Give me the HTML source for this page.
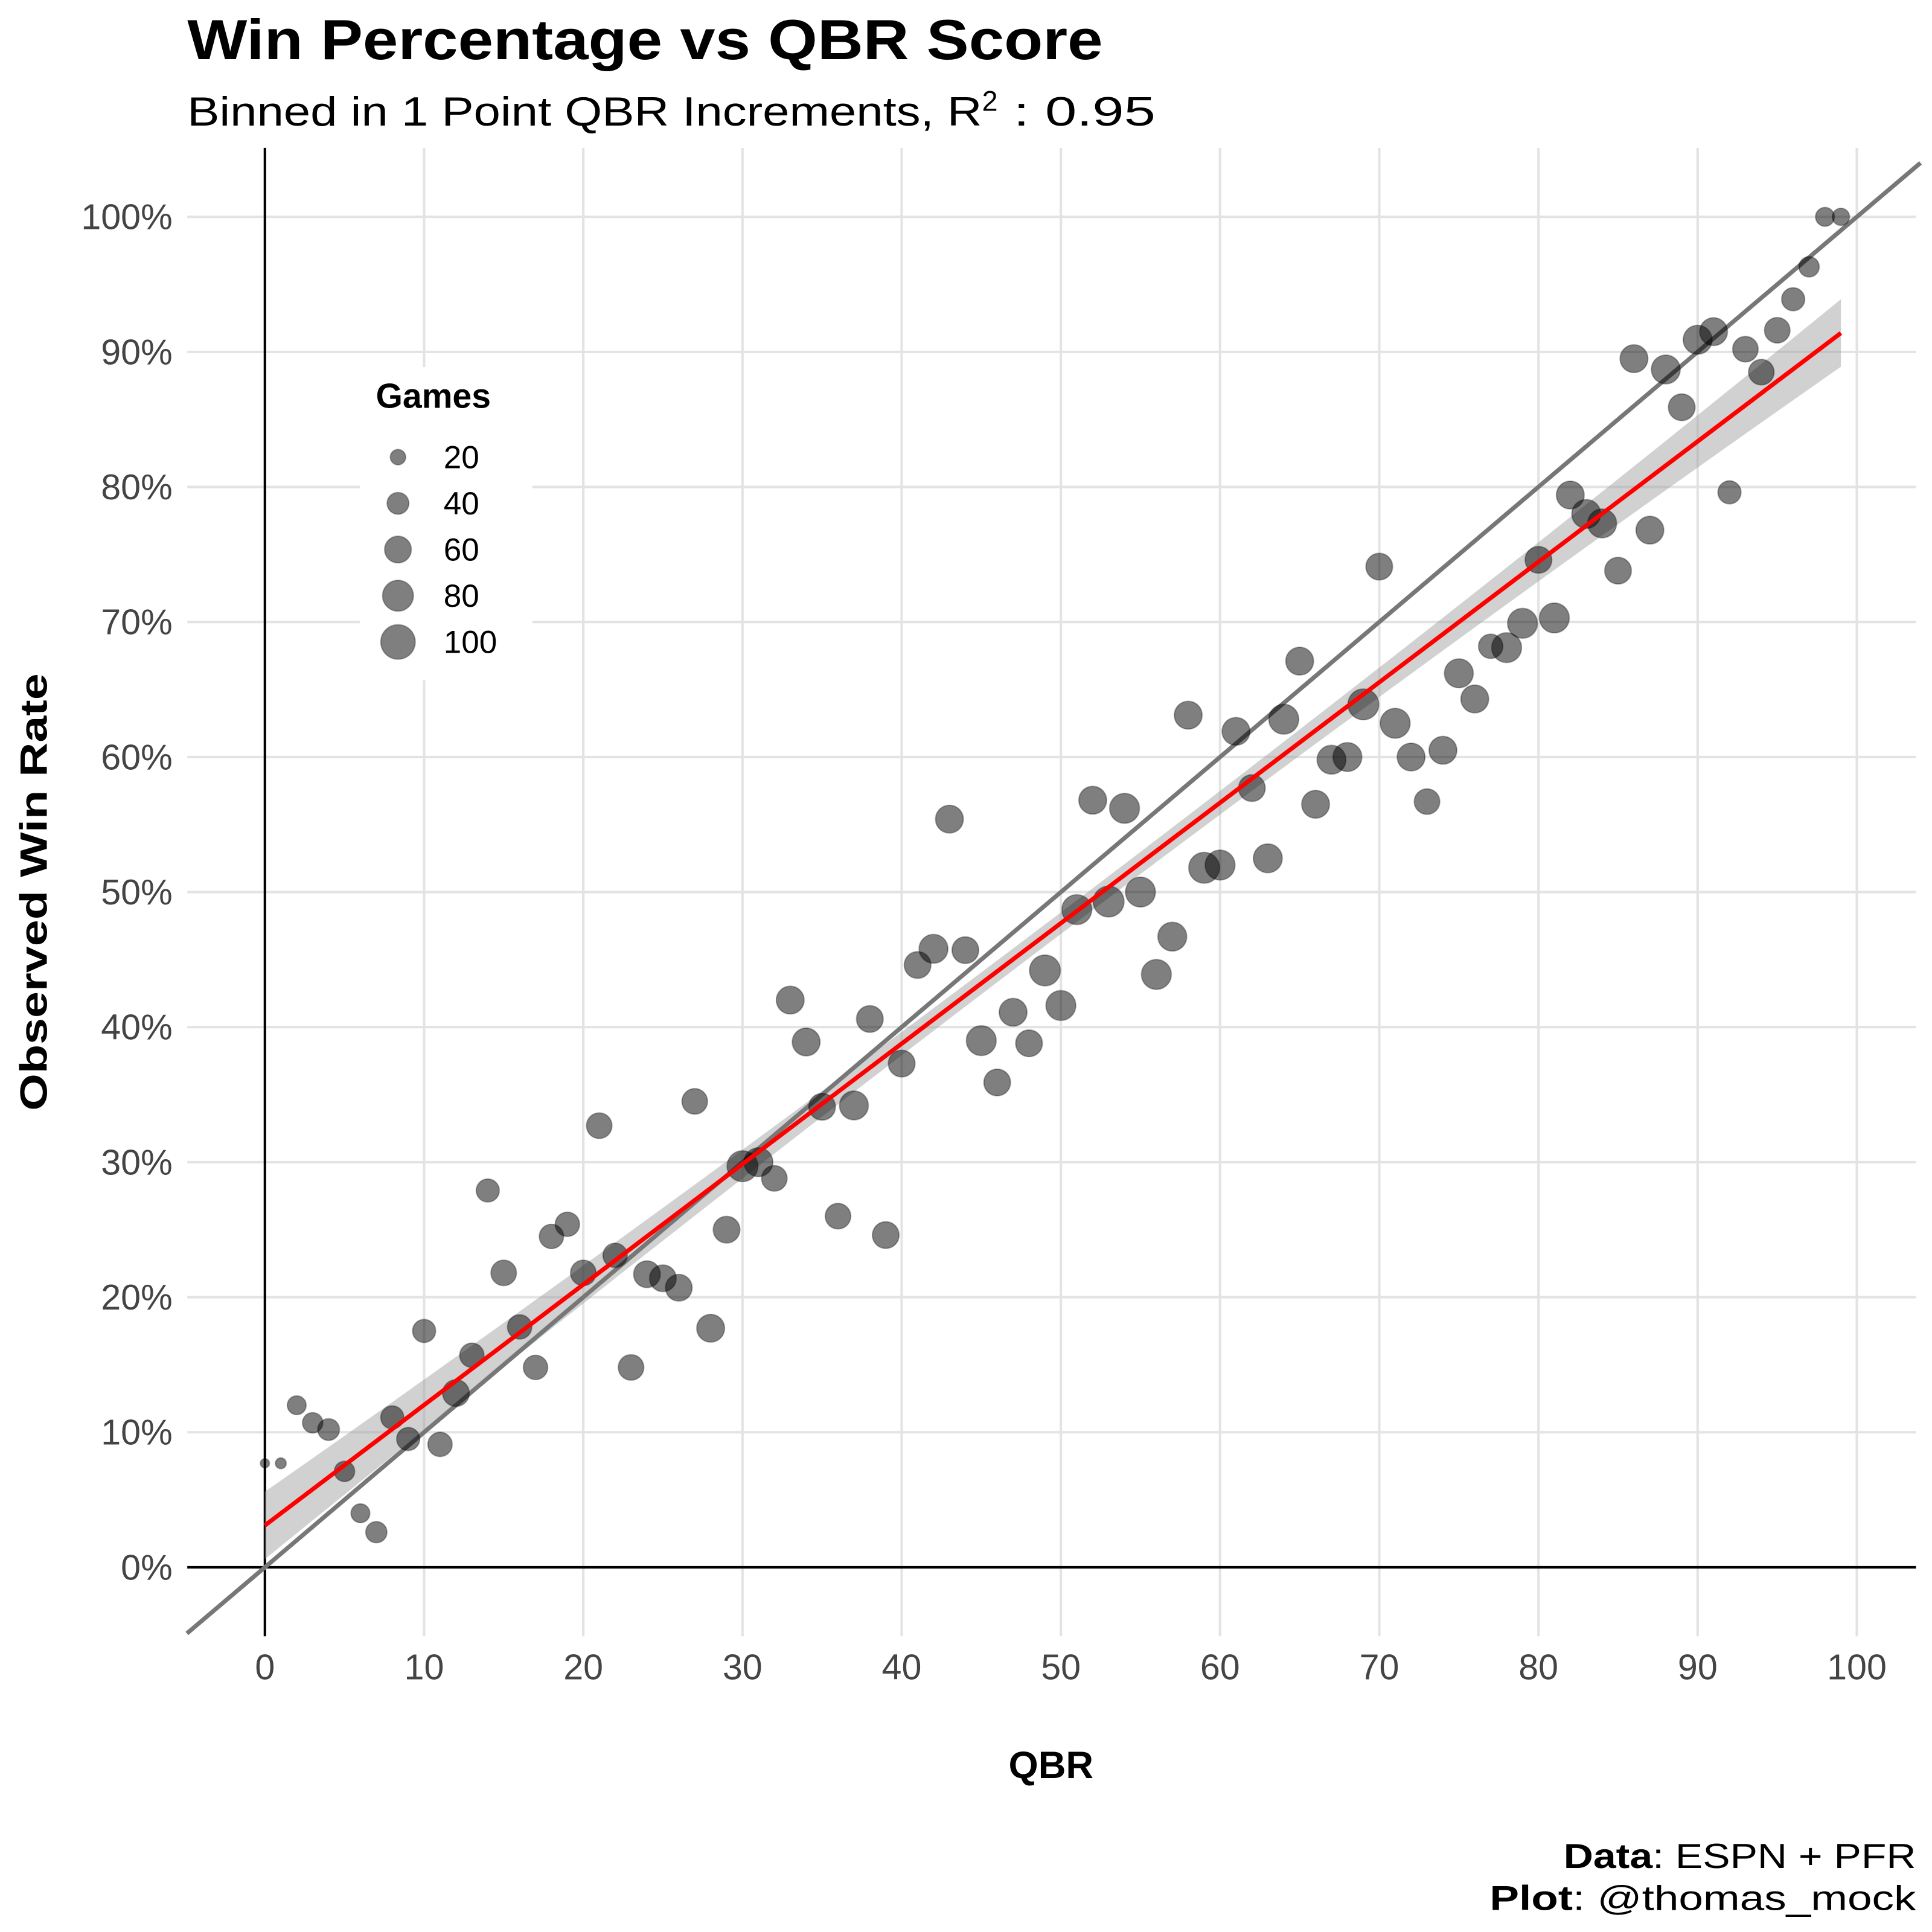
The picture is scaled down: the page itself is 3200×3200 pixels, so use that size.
<!DOCTYPE html>
<html><head><meta charset="utf-8">
<style>
html,body{margin:0;padding:0;background:#fff;}
svg{display:block;font-family:"Liberation Sans",sans-serif;}
</style></head>
<body>
<svg id="chart" width="3200" height="3200" viewBox="0 0 1568 1568">
<text x="152" y="48" font-size="46" font-weight="bold" fill="#000" textLength="743" lengthAdjust="spacingAndGlyphs">Win Percentage vs QBR Score</text>
<text x="152" y="102" font-size="33" fill="#000"><tspan textLength="645" lengthAdjust="spacingAndGlyphs">Binned in 1 Point QBR Increments, R</tspan><tspan dy="-12" font-size="23">2</tspan><tspan dy="12" textLength="128" lengthAdjust="spacingAndGlyphs"> : 0.95</tspan></text>
<g id="grid"></g>
<g id="axes"></g>
<g id="marks"></g>
<text x="853" y="1443" font-size="31" font-weight="bold" text-anchor="middle">QBR</text>
<text transform="translate(38,724) rotate(-90)" font-size="31" font-weight="bold" text-anchor="middle" textLength="355" lengthAdjust="spacingAndGlyphs">Observed Win Rate</text>
<g id="legend"></g>
<text x="1555" y="1516" font-size="28" text-anchor="end" textLength="286" lengthAdjust="spacingAndGlyphs"><tspan font-weight="bold">Data</tspan>: ESPN + PFR</text>
<text x="1555" y="1550" font-size="28" text-anchor="end" textLength="346" lengthAdjust="spacingAndGlyphs"><tspan font-weight="bold">Plot</tspan>: @thomas_mock</text>
</svg>
<script>
const qbr = [];for(let i=0;i<100;i++)qbr.push(i);
const winPct = [7.7,7.7,12.0,10.7,10.2,7.1,4.0,2.6,11.1,9.5,17.5,9.1,12.9,15.7,27.9,21.8,17.8,14.8,24.5,25.4,21.8,32.7,23.1,14.8,21.7,21.4,20.7,34.5,17.7,25.0,29.7,30.0,28.8,42.0,38.9,34.1,26.0,34.2,40.6,24.6,37.3,44.6,45.8,55.4,45.7,39.0,35.9,41.1,38.8,44.2,41.6,48.7,56.8,49.3,56.2,50.0,43.9,46.7,63.1,51.8,52.0,61.9,57.7,52.5,62.8,67.1,56.5,59.8,60.0,63.9,74.1,62.5,60.0,56.7,60.5,66.2,64.3,68.2,68.1,69.9,74.6,70.3,79.4,78.0,77.3,73.8,89.5,76.8,88.7,85.9,90.9,91.5,79.6,90.2,88.5,91.6,93.9,96.3,100,100];
const games = [7,10,30,35,40,35,30,38,45,45,45,50,60,50,45,55,50,50,50,50,55,55,50,55,60,60,60,55,65,60,80,70,55,65,65,60,55,70,60,60,60,60,70,65,60,75,60,65,60,80,75,75,65,80,75,75,75,70,65,80,75,65,60,70,75,65,65,70,70,80,60,75,65,55,65,70,65,50,75,75,60,75,65,70,70,60,65,65,70,60,70,65,45,55,55,55,45,35,30,25];
const xTicks=[0,10,20,30,40,50,60,70,80,90,100];
const yTicks=[0,10,20,30,40,50,60,70,80,90,100];
const legendSizes=[20,40,60,80,100];
const fitStart=3.1, fitEnd=91.4;

const NS="http://www.w3.org/2000/svg";
const X=v=>215+v*12.92, Y=v=>1272-v*10.96, R=n=>1.4*Math.sqrt(n);
const Rt=1555,T=120,B=1328, PL=152;
function mk(tag,attrs,parent){const e=document.createElementNS(NS,tag);for(const k in attrs)e.setAttribute(k,attrs[k]);parent.appendChild(e);return e;}
const grid=document.getElementById('grid'),axes=document.getElementById('axes'),marks=document.getElementById('marks'),leg=document.getElementById('legend');
xTicks.forEach(t=>{
 const l=mk('line',{x1:X(t),x2:X(t),y1:T,y2:B,stroke:'#e3e3e3','stroke-width':2},grid);
 
 
 const tx=mk('text',{x:X(t),y:1363,'font-size':29,fill:'#444','text-anchor':'middle'},axes);tx.textContent=t;
 
 
});
yTicks.forEach(t=>{
 const l=mk('line',{x1:PL,x2:Rt,y1:Y(t),y2:Y(t),stroke:'#e3e3e3','stroke-width':2},grid);
 
 
 const tx=mk('text',{x:140,y:Y(t)+10,'font-size':29,fill:'#444','text-anchor':'end'},axes);tx.textContent=t+'%';
 
 
});
let a=mk('line',{x1:PL,x2:Rt,y1:Y(0),y2:Y(0),stroke:'#000','stroke-width':2},axes);


a=mk('line',{x1:X(0),x2:X(0),y1:T,y2:B,stroke:'#000','stroke-width':2},axes);


const slope=(fitEnd-fitStart)/99, fit=v=>fitStart+slope*v, se=v=>0.8+1.7*Math.pow(Math.abs(v-49.5)/49.5,2);
let up=[],dn=[];for(let v=0;v<=99;v++){up.push(X(v)+','+Y(fit(v)+se(v)));dn.unshift(X(v)+','+Y(fit(v)-se(v)));}
const rib=mk('polygon',{points:up.concat(dn).join(' '),fill:'#999','fill-opacity':0.45},marks);


const id=mk('line',{x1:X(-4.9),y1:Y(-4.9),x2:X(104),y2:Y(104),stroke:'#777','stroke-width':3.5},marks);


qbr.forEach((q,i)=>{
 const c=mk('circle',{cx:X(q),cy:Y(winPct[i]),r:R(games[i]),fill:'#000','fill-opacity':0.5,stroke:'#000','stroke-opacity':0.3},marks);
 
 
});
const fl=mk('line',{x1:X(0),y1:Y(fitStart),x2:X(99),y2:Y(fitEnd),stroke:'#ff0000','stroke-width':3.5},marks);


const bg=mk('rect',{x:292,y:298,width:140,height:254,fill:'#fff'},leg);


const lt=mk('text',{x:305,y:331,'font-size':28,'font-weight':'bold'},leg);lt.textContent='Games';


legendSizes.forEach((s,i)=>{
 const cy=371+i*37.5;
 const c=mk('circle',{cx:323,cy:cy,r:R(s),fill:'#000','fill-opacity':0.5,stroke:'#000','stroke-opacity':0.3},leg);
 
 
 const t=mk('text',{x:360,y:cy+9,'font-size':26},leg);t.textContent=s;
 
 
});
</script>
</body></html>
